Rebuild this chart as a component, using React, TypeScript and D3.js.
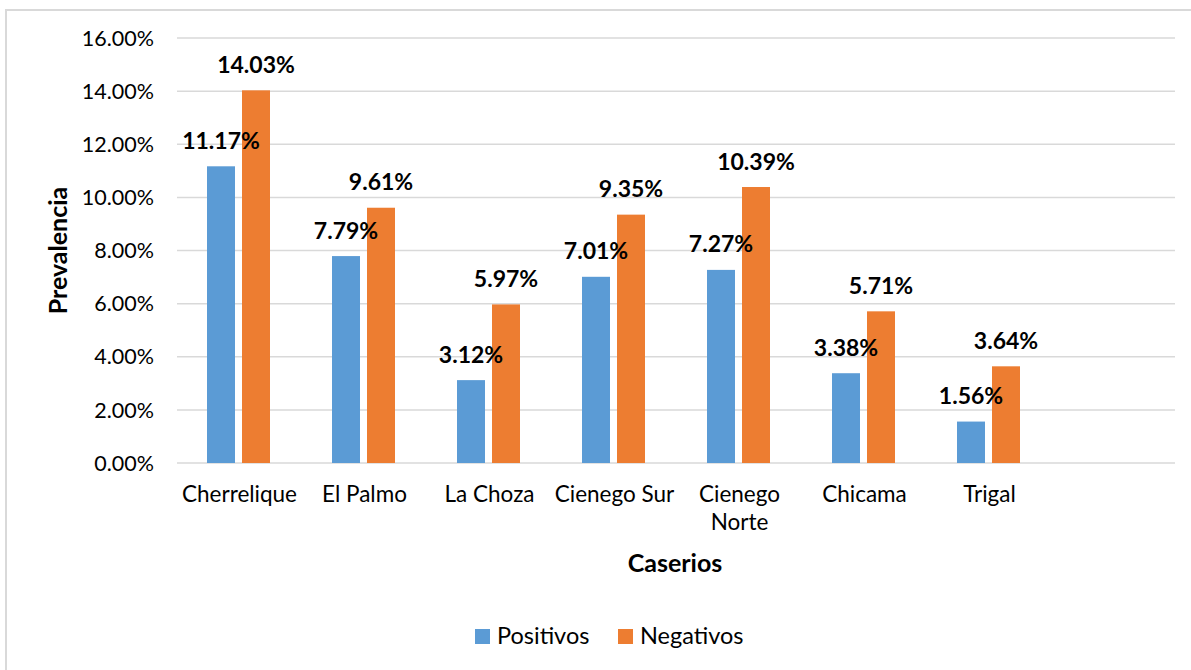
import { scaleBand, scaleLinear, range } from 'd3'

const categories = [
  'Cherrelique',
  'El Palmo',
  'La Choza',
  'Cienego Sur',
  'Cienego Norte',
  'Chicama',
  'Trigal',
]

const positivos = [11.17, 7.79, 3.12, 7.01, 7.27, 3.38, 1.56]
const negativos = [14.03, 9.61, 5.97, 9.35, 10.39, 5.71, 3.64]

const yTickValues = [0, 2, 4, 6, 8, 10, 12, 14, 16]

const seriesNames = ['Positivos', 'Negativos']
const seriesColors = ['#5b9bd5', '#ed7d31']

const width = 1191
const height = 670
const fontFamily = 'Lato, "Open Sans", sans-serif'

// Excel left one empty slot on the right of the category axis
const slotCount = 8

const plot = { left: 177, right: 1177, top: 38, bottom: 463 }

function wrapLabel(label: string) {
  // only the long two-word label wraps in the source
  return label === 'Cienego Norte' ? label.split(' ') : [label]
}

function App() {
  const xScale = scaleBand<number>()
    .domain(range(slotCount))
    .range([plot.left, plot.right])

  const groupWidth = 63
  const innerScale = scaleBand<number>()
    .domain([0, 1])
    .range([0, groupWidth])
    .paddingInner(0.2)

  const yScale = scaleLinear().domain([0, 16]).range([plot.bottom, plot.top])

  const series = [positivos, negativos]

  const barX = (s: number, i: number) =>
    (xScale(i) ?? 0) + (xScale.bandwidth() - groupWidth) / 2 - 1 + (innerScale(s) ?? 0)

  return (
    <svg
      width={width}
      height={height}
      viewBox={`0 0 ${width} ${height}`}
      style={{ position: 'absolute', left: 0, top: 0, background: '#fff' }}
      fontFamily={fontFamily}
    >
      <rect x={6} y={10} width={width + 10} height={height + 10} fill="#fff" stroke="#d9d9d9" strokeWidth={2} />

      {yTickValues.map((tick) => (
        <g key={tick}>
          <line
            x1={plot.left}
            x2={plot.right - 2}
            y1={yScale(tick)}
            y2={yScale(tick)}
            stroke="#d9d9d9"
            strokeWidth={1.5}
          />
          <text x={154} y={yScale(tick)} dy="0.36em" textAnchor="end" fontSize={21.5} fill="#000">
            {tick.toFixed(2)}%
          </text>
        </g>
      ))}

      {series.map((values, s) =>
        values.map((value, i) => {
          const y = yScale(value)
          return (
            <rect
              key={`${s}-${i}`}
              x={barX(s, i)}
              y={y}
              width={innerScale.bandwidth()}
              height={plot.bottom - y}
              fill={seriesColors[s]}
            />
          )
        }),
      )}

      {series.map((values, s) =>
        values.map((value, i) => (
          <text
            key={`label-${s}-${i}`}
            x={barX(s, i) + innerScale.bandwidth() / 2}
            y={yScale(value) - 17.5}
            textAnchor="middle"
            fontSize={23}
            fontWeight="bold"
            fill="#000"
          >
            {value.toFixed(2)}%
          </text>
        )),
      )}

      {categories.map((category, i) => {
        const cx = (xScale(i) ?? 0) + xScale.bandwidth() / 2
        return (
          <text key={category} x={cx} y={502} textAnchor="middle" fontSize={22.5} fill="#000">
            {wrapLabel(category).map((line, k) => (
              <tspan key={line} x={cx} dy={k === 0 ? 0 : 28}>
                {line}
              </tspan>
            ))}
          </text>
        )
      })}

      <text x={675} y={572} textAnchor="middle" fontSize={25} fontWeight="bold" fill="#000">
        Caserios
      </text>

      <text
        transform={`translate(67, ${(plot.top + plot.bottom) / 2}) rotate(-90)`}
        textAnchor="middle"
        fontSize={25}
        fontWeight="bold"
        fill="#000"
      >
        Prevalencia
      </text>

      {seriesNames.map((name, s) => {
        const lx = s === 0 ? 475 : 618
        return (
          <g key={name}>
            <rect x={lx} y={629} width={15} height={15} fill={seriesColors[s]} />
            <text x={lx + 22} y={644} fontSize={23.5} fill="#000">
              {name}
            </text>
          </g>
        )
      })}
    </svg>
  )
}

export default App
